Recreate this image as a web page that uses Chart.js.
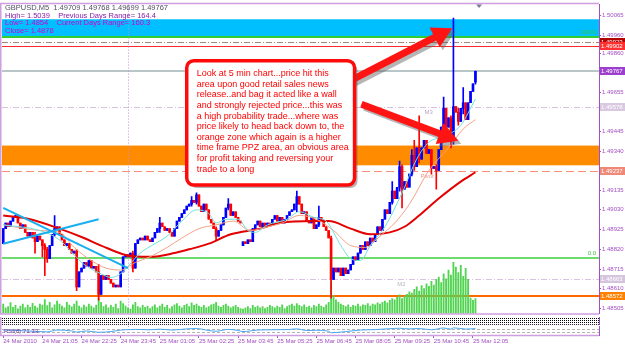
<!DOCTYPE html>
<html>
<head>
<meta charset="utf-8">
<title>GBPUSD M5</title>
<script src="https://cdn.jsdelivr.net/npm/chart.js@4.4.1/dist/chart.umd.min.js"></script>
<style>
  body { margin: 0; background: #fff; }
  #wrap { position: relative; width: 625px; height: 346px; overflow: hidden; background: #fff; }
  #wrap canvas { position: absolute; left: 0; }
</style>
</head>
<body>
<div id="wrap">
  <canvas id="main" width="625" height="318" style="top:0"></canvas>
  <canvas id="frac" width="625" height="8" style="top:317px"></canvas>
  <canvas id="rsi" width="625" height="21" style="top:325px"></canvas>
</div>
<script>
// ---- data (M5 bars, slot index = bar number) ----
const SLOTS = 244;
const closes = [
  1.4893,1.4896,1.4894,1.4897,1.4899,1.4900,1.4896,1.4893,1.4895,1.4891,
  1.4889,1.4891,1.4888,1.4886,1.4889,1.4887,1.4884,1.4882,1.4877,1.4884,
  1.4890,1.4893,1.4894,1.4890,1.4887,1.4884,1.4885,1.4882,1.4880,1.4881,
  1.4862,1.4870,1.4872,1.4875,1.4873,1.4876,1.4872,1.4873,1.4870,1.4858,
  1.4868,1.4866,1.4868,1.4866,1.4864,1.4862,1.4863,1.4862,1.4870,1.4878,
  1.4879,1.4878,1.4880,1.4872,1.4885,1.4887,1.4888,1.4887,1.4889,1.4887,
  1.4886,1.4888,1.4891,1.4893,1.4896,1.4894,1.4892,1.4893,1.4891,1.4889,
  1.4893,1.4897,1.4899,1.4901,1.4903,1.4905,1.4906,1.4908,1.4907,1.4911,
  1.4905,1.4902,1.4906,1.4903,1.4898,1.4896,1.4893,1.4889,1.4892,1.4895,
  1.4899,1.4904,1.4906,1.4900,1.4902,1.4899,1.4897,1.4896,1.4886,1.4885,
  1.4887,1.4886,1.4893,1.4895,1.4897,1.4894,1.4896,1.4894,1.4896,1.4895,
  1.4898,1.4900,1.4897,1.4899,1.4896,1.4898,1.4900,1.4902,1.4903,1.4906,
  1.4910,1.4906,1.4901,1.4902,1.4897,1.4896,1.4899,1.4893,1.4895,1.4899,
  1.4897,1.4894,1.4892,1.4888,1.4866,1.4872,1.4870,1.4872,1.4868,1.4872,
  1.4869,1.4871,1.4874,1.4878,1.4876,1.4880,1.4884,1.4882,1.4886,1.4884,
  1.4888,1.4886,1.4890,1.4894,1.4892,1.4898,1.4903,1.4901,1.4907,1.4913,
  1.4909,1.4915,1.4926,1.4914,1.4918,1.4915,1.4922,1.4932,1.4926,1.4936,
  1.4930,1.4936,1.4940,1.4933,1.4935,1.4925,1.4926,1.4924,1.4935,1.4947,
  1.4957,1.4947,1.4952,1.4940,1.4958,1.4955,1.4950,1.4957,1.4960,1.4951,
  1.4960,1.4966,1.4970,1.49767
];
// bars whose open is not the previous close
const gapOpens = {0: 1.4885, 98: 1.4884, 193: 1.49709};
// visible wicks: [slot, high, low]
const wicks = [
  [13,1.4891,1.4880],[16,1.4887,1.4878],[17,1.4885,1.4868],[18,1.4883,1.4875],[21,1.4900,1.4889],
  [30,1.4882,1.4860],[39,1.4874,1.4855],[53,1.4881,1.4870],[64,1.4899,1.4891],[77,1.4910,1.4905],
  [79,1.4912,1.4906],[87,1.4894,1.4887],[92,1.4909,1.4903],[120,1.4913,1.4902],[129,1.4905,1.4894],
  [134,1.4889,1.4856],[159,1.4918,1.4906],[162,1.4929,1.4913],[163,1.4927,1.4904],[167,1.4935,1.4921],
  [168,1.4940,1.4924],[170,1.4953,1.4928],[175,1.4935,1.4922],[177,1.4927,1.4914],[180,1.4963,1.4945],
  [183,1.4953,1.4936],[184,1.5005,1.4938],[186,1.4957,1.4948],[188,1.4968,1.4954],[193,1.49768,1.49699]
];
const volumes = [
  30,18,22,35,20,26,15,24,30,18,27,20,33,24,18,30,27,45,25,36,
  18,28,40,30,24,18,36,27,21,30,40,24,18,27,21,30,24,18,27,48,
  36,22,28,18,26,20,30,16,40,32,24,18,14,28,36,22,18,26,20,24,
  16,22,28,18,24,30,20,26,16,22,28,32,24,18,26,30,22,34,26,30,
  24,20,26,18,22,28,30,36,24,20,26,30,24,18,22,26,20,16,14,18,
  22,16,26,20,24,18,22,16,20,26,22,18,24,20,28,16,22,26,30,24,
  32,26,22,28,20,24,18,26,22,30,24,20,28,36,105,58,44,36,30,26,
  22,28,20,26,24,30,22,28,26,32,24,30,28,34,30,36,40,34,42,48,
  44,52,60,48,56,62,70,66,78,86,72,90,80,96,88,104,92,110,118,100,
  128,112,140,124,165,150,132,156,120,146,110,50,42,48
];
// moving averages, [slot, price]
const maSlow = [[0,1.4900],[11,1.4898],[23,1.4893],[33,1.4888],[40,1.4884],[50,1.4879],[60,1.4878],
  [70,1.4880],[76,1.4882],[84,1.4885],[93,1.4890],[105,1.4893],[113,1.4896],[127,1.4897],[133,1.4897],
  [142,1.4893],[150,1.4890],[158,1.4891],[164,1.4894],[170,1.4900],[178,1.4909],[187,1.4918],[193,1.4923]];
const maMid = [[0,1.4895],[15,1.4892],[23,1.4891],[29,1.4883],[36,1.4876],[42,1.4872],[48,1.4871],
  [54,1.4875],[60,1.4878],[67,1.4883],[73,1.4888],[80,1.4893],[87,1.4895],[94,1.4897],[101,1.4892],
  [108,1.4894],[114,1.4896],[121,1.4900],[128,1.4898],[135,1.4892],[142,1.4884],[148,1.4883],
  [154,1.4889],[160,1.4896],[166,1.4906],[174,1.4924],[182,1.4936],[188,1.4946],[193,1.4951]];
const maFast = [[0,1.4895],[15,1.4892],[23,1.4887],[29,1.4879],[33,1.4874],[40,1.4869],[44,1.4867],
  [48,1.4869],[51,1.4873],[56,1.4880],[62,1.4885],[67,1.4889],[73,1.4897],[79,1.4903],[84,1.4901],
  [87,1.4896],[91,1.4898],[96,1.4898],[100,1.4892],[103,1.4891],[108,1.4895],[116,1.4898],[121,1.4902],
  [127,1.4899],[132,1.4897],[138,1.4884],[142,1.4877],[146,1.4876],[150,1.4884],[156,1.4894],
  [163,1.4912],[169,1.4930],[174,1.4939],[180,1.4942],[187,1.4948],[193,1.4962]];
const trendDown = [[0,1.4904],[51,1.4872]];
const trendUp = [[0,1.4885],[39,1.4898]];
const rsiPoints = [[0,55],[6,50],[12,42],[18,35],[22,55],[28,45],[30,32],[34,45],[39,30],[44,38],[48,55],
  [52,60],[54,62],[60,58],[64,65],[69,55],[75,68],[79,72],[84,50],[87,42],[92,62],[96,50],[98,38],
  [104,55],[110,58],[116,60],[120,68],[124,50],[128,52],[133,42],[134,25],[140,38],[146,55],[152,60],
  [158,70],[162,75],[166,68],[170,72],[175,58],[180,78],[183,65],[184,80],[189,66],[193,71]];
const rsiLevels = [70, 30];
const fracLevels = [0.5, 1.5, 2.5, 3.5];

const priceTicks = [1.50065,1.49960,1.49860,1.49655,1.49445,1.49340,1.49135,1.49030,1.48925,1.48820,1.48715,1.48610,1.48505];
const timeLabels = ['24 Mar 2010','24 Mar 21:05','24 Mar 22:25','24 Mar 23:45','25 Mar 01:05','25 Mar 02:25',
  '25 Mar 03:45','25 Mar 05:25','25 Mar 06:45','25 Mar 08:05','25 Mar 09:25','25 Mar 10:45','25 Mar 12:05'];
const labelEvery = 16;
const daySeparator = 51;

const zones = [[1.50044, 1.49949], [1.49372, 1.49267]];
const levelPrices = [1.49949, 1.49923, 1.49902, 1.49767, 1.49578, 1.49237, 1.48773, 1.48663, 1.48572];
const levelNames = ['100.0', '', '', '', 'M3', 'Pivot', '0.0', 'M2', ''];
const tagPrices = [1.49923, 1.49902, 1.49767, 1.49578, 1.49237, 1.48663, 1.48572];

const headerLines = [
  'GBPUSD,M5  1.49709 1.49768 1.49699 1.49767',
  'High= 1.5039    Previous Days Range= 164.4',
  'Low= 1.4854    Current Days Range= 160.3',
  'Close= 1.4878'
];
const noteLines = [
  'Look at 5 min chart...price hit this',
  'area upon good retail sales news',
  'release..and bag it acted like a wall',
  'and strongly rejected price...this was',
  'a high probability trade...where was',
  'price likely to head back down to, the',
  'orange zone which again is a higher',
  'time frame PPZ area, an obvious area',
  'for profit taking and reversing your',
  'trade to a long'
];
// annotation anchors in chart coordinates (slot, price)
const note = {fromSlot: 75, toSlot: 143.6, top: 1.49823, bottom: 1.49162};
const arrows = [[141.9, 1.49718, 183.6, 1.49996], [146.4, 1.49592, 186.0, 1.49398]];
const shiftMarker = 194.5;

// ---- styles ----
const FONT = '"Liberation Sans", Arial, sans-serif';
Chart.defaults.font.family = FONT;
const UP = '#0000ff', DOWN = '#ff0000';
const AXIS = '#a24fc2';
const FRAME = '#cf9ee0';
const zoneColors = ['#00bfff', '#ff8c00'];
const levelStyles = [
  {color: '#32cd32', width: 2, dash: [], text: '#32cd32', at: 'right', dy: -2},
  {color: '#a08878', width: 1, dash: [6, 2, 1, 2]},
  {color: '#ff2a2a', width: 1, dash: []},
  {color: '#b8c6c8', width: 2, dash: []},
  {color: '#d9c0e2', width: 1, dash: [6, 2, 1, 2], text: '#c0a8c8', at: 172.2, dy: 2},
  {color: '#f48c78', width: 1, dash: [8, 4], text: '#e8a090', at: 170.5, dy: 2},
  {color: '#3ccf3c', width: 1.5, dash: [], text: '#3cbf3c', at: 'right', dy: -2},
  {color: '#dcc2e2', width: 1, dash: [6, 2, 1, 2], text: '#b8b0c0', at: 161, dy: 2},
  {color: '#ff6a00', width: 2, dash: []}
];
const tagColors = ['#b00000', '#ff3030', '#9b3fcc', '#d8c8e0', '#f08878', '#d4c4dc', '#ff8000'];
const headerColors = ['#505060', '#8a1aa8', '#d000d0', '#d000d0'];

// ---- derived candle parts ----
const opens = closes.map((c, i) => (i in gapOpens) ? gapOpens[i] : closes[i - 1]);
const wickMap = Object.fromEntries(wicks.map(w => [w[0], w]));
const highs = closes.map((c, i) => wickMap[i] ? wickMap[i][1] : Math.max(c, opens[i]));
const lows = closes.map((c, i) => wickMap[i] ? wickMap[i][2] : Math.min(c, opens[i]));
const candleColors = closes.map((c, i) => c >= opens[i] ? UP : DOWN);
const slotLabels = Array.from({length: SLOTS}, (_, i) => i);
const pts = arr => arr.map(p => ({x: p[0], y: p[1]}));

function lineSet(data, color, width, order) {
  return {type: 'line', data: pts(data), borderColor: color, borderWidth: width, pointRadius: 0,
    cubicInterpolationMode: 'monotone', order: order, yAxisID: 'y'};
}

function drawArrow(ctx, x0, y0, x1, y1, color, w, head) {
  const a = Math.atan2(y1 - y0, x1 - x0);
  const bx = x1 - head * Math.cos(a), by = y1 - head * Math.sin(a);
  ctx.strokeStyle = color; ctx.lineWidth = w; ctx.lineCap = 'butt';
  ctx.beginPath(); ctx.moveTo(x0, y0); ctx.lineTo(bx + Math.cos(a), by + Math.sin(a)); ctx.stroke();
  const hw = head * 0.55;
  ctx.fillStyle = color;
  ctx.beginPath();
  ctx.moveTo(x1, y1);
  ctx.lineTo(bx + hw * Math.sin(a), by - hw * Math.cos(a));
  ctx.lineTo(bx - hw * Math.sin(a), by + hw * Math.cos(a));
  ctx.closePath(); ctx.fill();
}

function roundRect(ctx, x, y, w, h, r) {
  ctx.beginPath();
  ctx.moveTo(x + r, y);
  ctx.arcTo(x + w, y, x + w, y + h, r);
  ctx.arcTo(x + w, y + h, x, y + h, r);
  ctx.arcTo(x, y + h, x, y, r);
  ctx.arcTo(x, y, x + w, y, r);
  ctx.closePath();
}

function drawSeparator(chart) {
  const {ctx, chartArea: a, scales: {x}} = chart;
  const sx = Math.round(x.getPixelForValue(daySeparator)) + 0.5;
  ctx.save();
  ctx.strokeStyle = '#c28ee0'; ctx.lineWidth = 1; ctx.setLineDash([1, 2]);
  ctx.beginPath(); ctx.moveTo(sx, a.top); ctx.lineTo(sx, a.bottom); ctx.stroke();
  ctx.restore();
}

function drawFrame(chart, top) {
  const {ctx, chartArea: a} = chart;
  ctx.save();
  ctx.strokeStyle = FRAME; ctx.lineWidth = 1.5;
  ctx.beginPath();
  if (top) { ctx.moveTo(0, a.top - 1); ctx.lineTo(a.right, a.top - 1); }
  ctx.moveTo(0.75, a.top - 1); ctx.lineTo(0.75, a.bottom + 1);
  ctx.moveTo(0, a.bottom + 0.5); ctx.lineTo(a.right, a.bottom + 0.5);
  ctx.stroke();
  ctx.restore();
}

const mainOverlay = {
  id: 'mainOverlay',
  beforeDatasetsDraw(chart) {
    const {ctx, chartArea: a, scales: {x, y}} = chart;
    ctx.save();
    ctx.beginPath(); ctx.rect(a.left, a.top, a.right - a.left, a.bottom - a.top); ctx.clip();
    zones.forEach((z, k) => {
      const t = y.getPixelForValue(z[0]), b = y.getPixelForValue(z[1]);
      ctx.fillStyle = zoneColors[k];
      ctx.fillRect(a.left, t, a.right - a.left, b - t);
    });
    levelPrices.forEach((p, k) => {
      const st = levelStyles[k];
      const py = Math.round(y.getPixelForValue(p)) + (st.width % 2 === 1 ? 0.5 : 0);
      ctx.strokeStyle = st.color; ctx.lineWidth = st.width; ctx.setLineDash(st.dash);
      ctx.beginPath(); ctx.moveTo(a.left, py); ctx.lineTo(a.right, py); ctx.stroke();
      if (levelNames[k]) {
        ctx.fillStyle = st.text; ctx.font = '6px ' + FONT;
        ctx.textBaseline = st.dy < 0 ? 'bottom' : 'top';
        if (st.at === 'right') { ctx.textAlign = 'right'; ctx.fillText(levelNames[k], a.right - 3, py + st.dy); }
        else { ctx.textAlign = 'left'; ctx.fillText(levelNames[k], x.getPixelForValue(st.at), py + st.dy); }
      }
    });
    ctx.restore();
    drawSeparator(chart);
  },
  afterDatasetsDraw(chart) {
    const {ctx, scales: {x, y}} = chart;
    ctx.save();
    // arrows with soft shadow
    arrows.forEach(ar => {
      const x0 = x.getPixelForValue(ar[0]), y0 = y.getPixelForValue(ar[1]);
      const x1 = x.getPixelForValue(ar[2]), y1 = y.getPixelForValue(ar[3]);
      drawArrow(ctx, x0 + 3, y0 + 3, x1 + 3, y1 + 3, 'rgba(90,90,90,0.45)', 7, 20);
      drawArrow(ctx, x0, y0, x1, y1, '#ff1414', 7, 20);
    });
    // note box
    const bl = x.getPixelForValue(note.fromSlot), br = x.getPixelForValue(note.toSlot);
    const bt = y.getPixelForValue(note.top), bb = y.getPixelForValue(note.bottom);
    ctx.fillStyle = 'rgba(90,90,90,0.45)';
    roundRect(ctx, bl + 3, bt + 3, br - bl, bb - bt, 7); ctx.fill();
    roundRect(ctx, bl, bt, br - bl, bb - bt, 7);
    ctx.fillStyle = '#ffffff'; ctx.fill();
    ctx.strokeStyle = '#ff0a0a'; ctx.lineWidth = 3.5; ctx.stroke();
    ctx.fillStyle = '#ff0000'; ctx.font = '9px ' + FONT;
    ctx.textAlign = 'left'; ctx.textBaseline = 'middle';
    noteLines.forEach((t, k) => ctx.fillText(t, bl + 10, bt + 13 + k * 10.6));
    ctx.restore();
  },
  afterDraw(chart) {
    const {ctx, chartArea: a, scales: {x, y}} = chart;
    drawFrame(chart, true);
    ctx.save();
    // price tags on the axis
    ctx.font = '6px ' + FONT; ctx.textAlign = 'left'; ctx.textBaseline = 'middle';
    tagPrices.forEach((p, k) => {
      const py = Math.round(y.getPixelForValue(p));
      ctx.fillStyle = tagColors[k];
      ctx.fillRect(a.right + 1, py - 4, 25, 8);
      ctx.fillStyle = '#ffffff';
      ctx.fillText(p.toFixed(5), a.right + 2, py + 0.5);
    });
    // header
    ctx.font = '7.5px ' + FONT;
    headerLines.forEach((t, k) => {
      ctx.fillStyle = headerColors[k];
      ctx.fillText(t, a.left + 3, a.top + 3.5 + k * 7.5);
    });
    // chart shift marker
    const mx = x.getPixelForValue(shiftMarker);
    ctx.fillStyle = '#7c7c9c';
    ctx.beginPath(); ctx.moveTo(mx - 3, a.top); ctx.lineTo(mx + 3, a.top); ctx.lineTo(mx, a.top + 3.5); ctx.closePath(); ctx.fill();
    ctx.restore();
  }
};

const fixedWidth = s => { s.width = 26; };
const hiddenX = {type: 'category', display: false, offset: true, grid: {offset: false}};

new Chart(document.getElementById('main'), {
  type: 'bar',
  data: {
    labels: slotLabels,
    datasets: [
      lineSet(trendDown, '#19aef0', 2, 0),
      lineSet(trendUp, '#19aef0', 2, 0),
      lineSet(maFast, '#6fe0da', 1, 1),
      lineSet(maMid, '#f4a184', 1, 1),
      lineSet(maSlow, '#e40000', 2, 1),
      {data: closes.map((c, i) => [opens[i], c]), backgroundColor: candleColors, barThickness: 2,
        minBarLength: 1, grouped: false, order: 2, yAxisID: 'y'},
      {data: closes.map((c, i) => [lows[i], highs[i]]), backgroundColor: candleColors, barThickness: 1,
        grouped: false, order: 3, yAxisID: 'y'},
      {data: volumes, backgroundColor: '#52d452', barThickness: 1.2, grouped: false, order: 5, yAxisID: 'yv'}
    ]
  },
  options: {
    responsive: false, animation: false,
    layout: {padding: {left: 2, top: 3, right: 0, bottom: 2}},
    plugins: {legend: {display: false}, tooltip: {enabled: false}},
    scales: {
      x: hiddenX,
      y: {
        type: 'linear', position: 'right', min: 1.48479, max: 1.50122,
        afterBuildTicks: s => { s.ticks = priceTicks.map(v => ({value: v})); },
        afterFit: fixedWidth,
        grid: {drawOnChartArea: false, tickLength: 2, color: AXIS},
        border: {color: AXIS},
        ticks: {font: {size: 6}, color: AXIS, padding: 1, callback: v => v.toFixed(5)}
      },
      yv: {type: 'linear', display: false, min: 0, max: 1000}
    }
  },
  plugins: [mainOverlay]
});

new Chart(document.getElementById('frac'), {
  type: 'line',
  data: {labels: slotLabels, datasets: []},
  options: {
    responsive: false, animation: false,
    layout: {padding: {left: 2, top: 0, right: 0, bottom: 0}},
    plugins: {legend: {display: false}, tooltip: {enabled: false}},
    scales: {
      x: hiddenX,
      y: {position: 'right', min: 0, max: 4, afterFit: fixedWidth, ticks: {display: false},
        grid: {display: false}, border: {color: AXIS}}
    }
  },
  plugins: [{
    id: 'fracLines',
    beforeDatasetsDraw(chart) {
      const {ctx, chartArea: a, scales: {y}} = chart;
      ctx.save();
      ctx.strokeStyle = '#000'; ctx.lineWidth = 1; ctx.setLineDash([1, 1]);
      fracLevels.forEach(v => {
        const py = Math.round(y.getPixelForValue(v)) + 0.5;
        ctx.beginPath(); ctx.moveTo(a.left, py); ctx.lineTo(a.right, py); ctx.stroke();
      });
      ctx.restore();
      drawSeparator(chart);
    },
    afterDraw(chart) { drawFrame(chart, false); }
  }]
});

new Chart(document.getElementById('rsi'), {
  type: 'line',
  data: {labels: slotLabels, datasets: [{
    data: pts(rsiPoints), borderColor: '#4aa6ee', borderWidth: 1, pointRadius: 0,
    cubicInterpolationMode: 'monotone'
  }]},
  options: {
    responsive: false, animation: false,
    layout: {padding: {left: 2, top: 1, right: 0, bottom: 0}},
    plugins: {legend: {display: false}, tooltip: {enabled: false}},
    scales: {
      x: {
        type: 'category', offset: true,
        afterBuildTicks: s => { s.ticks = timeLabels.map((t, k) => ({value: k * labelEvery})); },
        afterFit: s => { s.height = 11; },
        grid: {drawOnChartArea: false, offset: false, tickLength: 3, color: AXIS},
        border: {display: false},
        ticks: {autoSkip: false, maxRotation: 0, align: 'start', padding: 0, font: {size: 6}, color: AXIS,
          callback: (v, i) => timeLabels[i]}
      },
      y: {position: 'right', min: 0, max: 100, afterFit: fixedWidth, ticks: {display: false},
        grid: {display: false}, border: {color: AXIS}}
    }
  },
  plugins: [{
    id: 'rsiExtras',
    beforeDatasetsDraw(chart) {
      const {ctx, chartArea: a, scales: {y}} = chart;
      ctx.save();
      ctx.strokeStyle = '#b4b4b4'; ctx.lineWidth = 1; ctx.setLineDash([3, 2]);
      rsiLevels.forEach(v => {
        const py = Math.round(y.getPixelForValue(v)) + 0.5;
        ctx.beginPath(); ctx.moveTo(a.left, py); ctx.lineTo(a.right, py); ctx.stroke();
      });
      ctx.restore();
      drawSeparator(chart);
    },
    afterDraw(chart) {
      const {ctx, chartArea: a} = chart;
      drawFrame(chart, false);
      ctx.save();
      ctx.font = '6px ' + FONT; ctx.fillStyle = '#7a3a9a';
      ctx.textAlign = 'left'; ctx.textBaseline = 'middle';
      ctx.fillText('RSI(8) 71.33', a.left + 2, (a.top + a.bottom) / 2 + 0.5);
      ctx.restore();
    }
  }]
});
</script>
</body>
</html>
